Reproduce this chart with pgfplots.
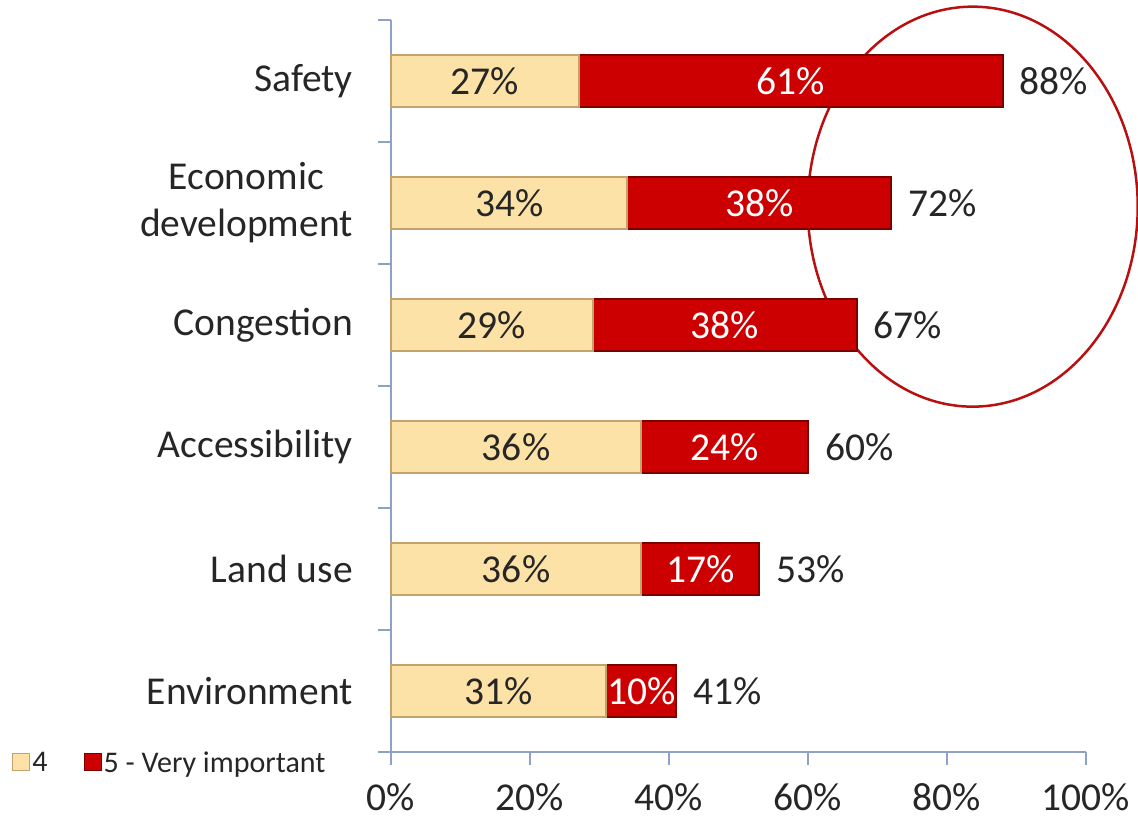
\documentclass[border=0pt]{standalone}
\usepackage{pgfplots}
\pgfplotsset{compat=1.18}
\usepackage{fontspec}
\setmainfont{Carlito}
\definecolor{axiscol}{HTML}{8EA2C8}
\definecolor{lightbar}{HTML}{FDE2A8}
\definecolor{lightedge}{HTML}{C4A26C}
\definecolor{redbar}{HTML}{CC0000}
\definecolor{rededge}{HTML}{7A0000}
\definecolor{txt}{HTML}{262626}
\definecolor{ellcol}{HTML}{B81010}
\begin{document}
\begin{tikzpicture}[font=\fontsize{39.5bp}{47bp}\selectfont, text=txt]
\useasboundingbox (0,0) rectangle (1138bp,819bp);
\begin{axis}[
  at={(391bp,67bp)}, anchor=south west,
  scale only axis, width=695bp, height=732bp,
  xbar stacked, bar width=52bp,
  xmin=0, xmax=100, ymin=-0.5, ymax=5.5,
  clip=false,
  axis lines*=left,
  axis line style={draw=axiscol, line width=2bp, -},
  tick align=outside,
  major tick length=13bp,
  tick style={draw=axiscol, line width=2bp},
  /pgf/number format/assume math mode=true,
  xtick={0,20,...,100},
  xticklabel={\pgfmathprintnumber{\tick}\%},
  ytick={-0.5,0.5,1.5,2.5,3.5,4.5,5.5},
  yticklabels={},
  extra y ticks={0,1,2,3,4,5},
  extra y tick labels={Environment,Land use,Accessibility,Congestion,{Economic\\development},Safety},
  extra y tick style={tick style={draw=none}},
  yticklabel style={align=center, inner sep=0pt, xshift=-25bp, text=txt},
  xticklabel style={text=txt, yshift=-15bp},
  legend columns=2,
  legend style={draw=none, fill=none, font=\fontsize{30bp}{34bp}\selectfont,
    at={(-0.545,-0.015)}, anchor=west, inner sep=0pt,
    /tikz/every even column/.append style={column sep=34bp}},
  legend image code/.code={\draw[#1, line width=1bp] (0bp,-8bp) rectangle (17bp,9bp);},
]
\addplot[fill=lightbar, draw=lightedge, line width=2bp,
  point meta=rawx,
  nodes near coords={\pgfmathprintnumber{\pgfplotspointmeta}\%},
  every node near coord/.append style={anchor=center, text=txt}]
  coordinates {(31,0) (36,1) (36,2) (29,3) (34,4) (27,5)};
\addlegendentry{4}
\addplot[fill=redbar, draw=rededge, line width=2bp,
  point meta=rawx,
  nodes near coords={\pgfmathprintnumber{\pgfplotspointmeta}\%},
  every node near coord/.append style={anchor=center, text=white}]
  coordinates {(10,0) (17,1) (24,2) (38,3) (38,4) (61,5)};
\addlegendentry{5 - Very important}
\draw[ellcol, line width=2.5bp] (axis cs:83.7,3.97) ellipse [x radius=165bp, y radius=200bp];
\end{axis}
\begin{axis}[
  at={(391bp,67bp)}, anchor=south west,
  scale only axis, width=695bp, height=732bp,
  xmin=0, xmax=100, ymin=-0.5, ymax=5.5,
  hide axis, clip=false,
]
\addplot[only marks, mark=none, point meta=explicit,
  nodes near coords={\pgfmathprintnumber{\pgfplotspointmeta}\%},
  /pgf/number format/assume math mode=true,
  every node near coord/.append style={anchor=west, text=txt, inner sep=0pt, xshift=17bp}]
  table[meta=t] {
x y t
41 0 41
53 1 53
60 2 60
67 3 67
72 4 72
88 5 88
};
\end{axis}
\end{tikzpicture}
\end{document}
